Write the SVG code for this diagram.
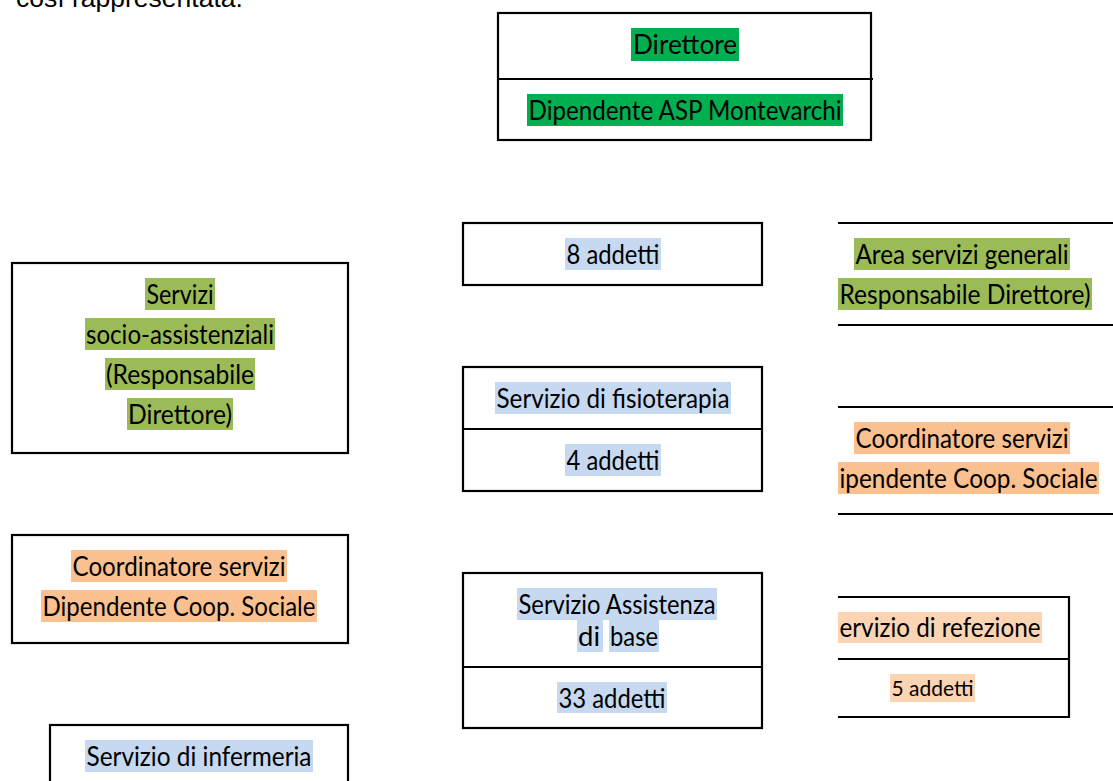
<svg xmlns="http://www.w3.org/2000/svg" width="1113" height="781" viewBox="0 0 1113 781">
<style>
.bx{fill:none;stroke:#000;stroke-width:2.2}
.ln{stroke:#000;stroke-width:2.2;fill:none}
.t{font-family:Lato,"Noto Sans",sans-serif;font-size:26px;fill:#000}
.ts{font-family:Lato,"Noto Sans",sans-serif;font-size:22px;fill:#000}
.g1{fill:#00B050}
.g2{fill:#9BBB59}
.or{fill:#FAC090}
.bl{fill:#C6D9F1}
.pe{fill:#FBD4B4}
</style>
<rect width="1113" height="781" fill="#fff"/>
<text x="16" y="7" style="font-family:'Liberation Sans',Arial,sans-serif;font-size:26.5px;fill:#000">così rappresentata.</text>

<g id="connectors"/>

<g id="direttore">
<rect class="bx" x="498" y="13" width="373" height="127"/>
<line class="ln" x1="498" y1="79" x2="873" y2="79"/>
<rect class="g1" x="631" y="28" width="108" height="33"/>
<text class="t" x="685" y="54" text-anchor="middle" textLength="104" lengthAdjust="spacingAndGlyphs">Direttore</text>
<rect class="g1" x="527" y="94" width="316" height="32"/>
<text class="t" x="685" y="119.5" text-anchor="middle" textLength="313" lengthAdjust="spacingAndGlyphs">Dipendente ASP Montevarchi</text>
</g>

<g id="servizi-socio">
<rect class="bx" x="12" y="263" width="336" height="190"/>
<rect class="g2" x="145" y="278" width="70" height="32"/>
<text class="t" x="180" y="303.5" text-anchor="middle" textLength="67" lengthAdjust="spacingAndGlyphs">Servizi</text>
<rect class="g2" x="85" y="318" width="190" height="32"/>
<text class="t" x="180" y="343.5" text-anchor="middle" textLength="188" lengthAdjust="spacingAndGlyphs">socio-assistenziali</text>
<rect class="g2" x="105" y="358" width="150" height="32"/>
<text class="t" x="180" y="383.5" text-anchor="middle" textLength="148" lengthAdjust="spacingAndGlyphs">(Responsabile</text>
<rect class="g2" x="127" y="398" width="106" height="32"/>
<text class="t" x="180" y="423.5" text-anchor="middle" textLength="104" lengthAdjust="spacingAndGlyphs">Direttore)</text>
</g>

<g id="addetti-8">
<rect class="bx" x="463" y="223" width="299" height="62"/>
<rect class="bl" x="565" y="238" width="96" height="32"/>
<text class="t" x="613" y="263.5" text-anchor="middle" textLength="93" lengthAdjust="spacingAndGlyphs">8 addetti</text>
</g>

<g id="fisioterapia">
<rect class="bx" x="463" y="367" width="299" height="124"/>
<line class="ln" x1="463" y1="429" x2="763" y2="429"/>
<rect class="bl" x="495" y="382" width="236" height="32"/>
<text class="t" x="613" y="407.5" text-anchor="middle" textLength="233" lengthAdjust="spacingAndGlyphs">Servizio di fisioterapia</text>
<rect class="bl" x="565" y="444" width="96" height="32"/>
<text class="t" x="613" y="469.5" text-anchor="middle" textLength="93" lengthAdjust="spacingAndGlyphs">4 addetti</text>
</g>

<g id="area-servizi-generali">
<line class="ln" x1="838" y1="223" x2="1113" y2="223"/>
<line class="ln" x1="838" y1="325" x2="1113" y2="325"/>
<rect class="g2" x="854" y="238" width="216" height="32"/>
<text class="t" x="962" y="263.5" text-anchor="middle" textLength="213" lengthAdjust="spacingAndGlyphs">Area servizi generali</text>
<rect class="g2" x="838" y="278" width="254" height="32"/>
<text class="t" x="965" y="303.5" text-anchor="middle" textLength="251" lengthAdjust="spacingAndGlyphs">Responsabile Direttore)</text>
</g>

<g id="coordinatore-destra">
<line class="ln" x1="838" y1="407" x2="1113" y2="407"/>
<line class="ln" x1="838" y1="514" x2="1113" y2="514"/>
<rect class="or" x="854" y="422" width="216" height="32"/>
<text class="t" x="962" y="447.5" text-anchor="middle" textLength="213" lengthAdjust="spacingAndGlyphs">Coordinatore servizi</text>
<rect class="or" x="838" y="462" width="261" height="32"/>
<text class="t" x="968.5" y="487.5" text-anchor="middle" textLength="258" lengthAdjust="spacingAndGlyphs">ipendente Coop. Sociale</text>
</g>

<g id="coordinatore-sinistra">
<rect class="bx" x="12" y="535" width="336" height="108"/>
<rect class="or" x="71" y="550" width="216" height="32"/>
<text class="t" x="179" y="575.5" text-anchor="middle" textLength="213" lengthAdjust="spacingAndGlyphs">Coordinatore servizi</text>
<rect class="or" x="41" y="590" width="276" height="32"/>
<text class="t" x="179" y="615.5" text-anchor="middle" textLength="273" lengthAdjust="spacingAndGlyphs">Dipendente Coop. Sociale</text>
</g>

<g id="infermeria">
<rect class="bx" x="50" y="725" width="298" height="80"/>
<rect class="bl" x="85" y="740" width="228" height="32"/>
<text class="t" x="199" y="765.5" text-anchor="middle" textLength="225" lengthAdjust="spacingAndGlyphs">Servizio di infermeria</text>
</g>

<g id="assistenza-base">
<rect class="bx" x="463" y="573" width="299" height="155"/>
<line class="ln" x1="463" y1="667" x2="763" y2="667"/>
<rect class="bl" x="517" y="588" width="200" height="32"/>
<text class="t" x="617" y="613.5" text-anchor="middle" textLength="197" lengthAdjust="spacingAndGlyphs">Servizio Assistenza</text>
<rect class="bl" x="577" y="620" width="26" height="32"/>
<rect class="bl" x="609" y="620" width="50" height="32"/>
<text class="t" x="578" y="645.5" textLength="22" lengthAdjust="spacingAndGlyphs">di</text>
<text class="t" x="610" y="645.5" textLength="48" lengthAdjust="spacingAndGlyphs">base</text>
<rect class="bl" x="557" y="682" width="110" height="31"/>
<text class="t" x="612" y="707.5" text-anchor="middle" textLength="107" lengthAdjust="spacingAndGlyphs">33 addetti</text>
</g>

<g id="refezione">
<polyline class="ln" points="838,597 1069,597 1069,717 838,717"/>
<line class="ln" x1="838" y1="659" x2="1069" y2="659"/>
<rect class="pe" x="838" y="612" width="204" height="31"/>
<text class="t" x="940" y="636.5" text-anchor="middle" textLength="201" lengthAdjust="spacingAndGlyphs">ervizio di refezione</text>
<rect class="pe" x="890" y="674" width="85" height="28"/>
<text class="ts" x="932.5" y="696" text-anchor="middle" textLength="82" lengthAdjust="spacingAndGlyphs">5 addetti</text>
</g>
</svg>
